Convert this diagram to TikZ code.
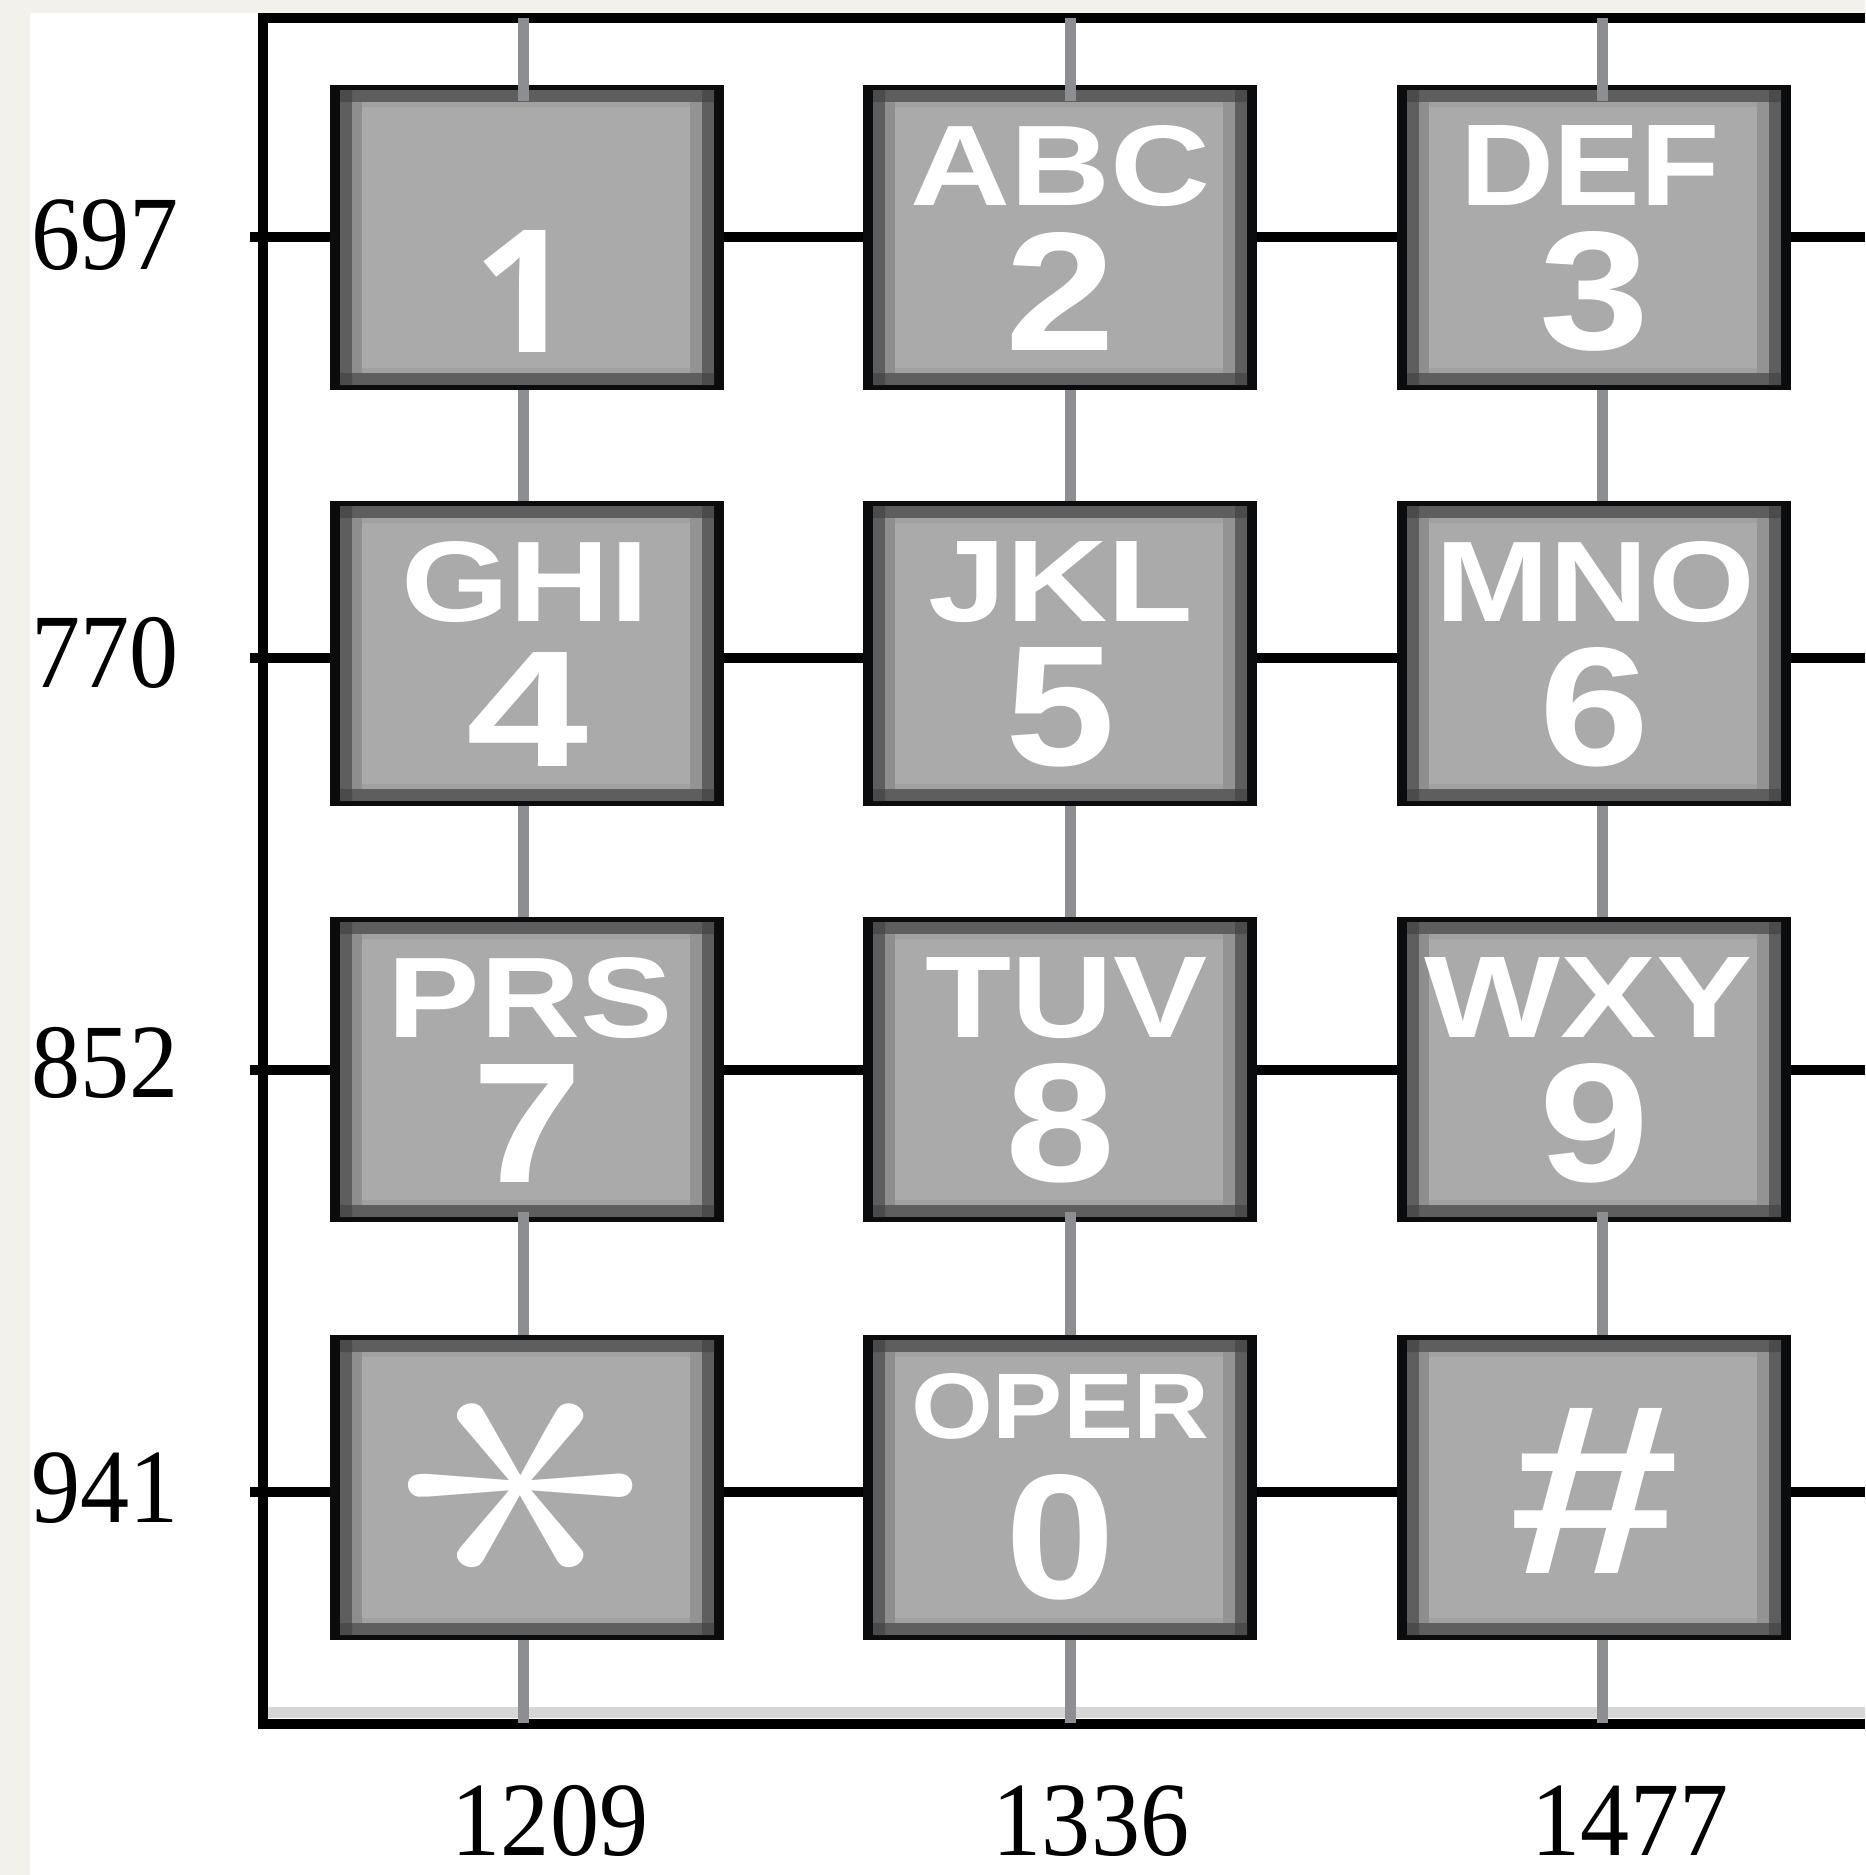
\documentclass[tikz,border=0pt]{standalone}
\usepackage{fontspec}
\setmainfont{Liberation Serif}
\newfontfamily\keyfont{Liberation Sans}
\newfontfamily\onefont{Open Sans}
\usetikzlibrary{calc}
\newlength\kpxunit
\setlength\kpxunit{0.01cm}

\definecolor{paper}{RGB}{243,241,236}
\definecolor{keyblack}{RGB}{10,12,13}
\definecolor{bandone}{RGB}{94,94,94}
\definecolor{bandcorner}{RGB}{75,75,75}
\definecolor{bandtb}{RGB}{161,161,161}
\definecolor{bandl}{RGB}{142,142,142}
\definecolor{bandr}{RGB}{147,147,147}
\definecolor{keyfill}{RGB}{170,170,170}
\definecolor{colgray}{RGB}{141,142,145}
\definecolor{basegray}{RGB}{214,214,214}

\tikzset{
  framewire/.style={draw=black, line width=0.1cm, line join=miter},
  rowwire/.style={draw=black, line width=0.1cm},
  colwire/.style={draw=colgray, line width=0.11cm},
  keybody/.style={fill=keyblack, minimum width=3.94cm, minimum height=3.05cm, inner sep=0pt, outer sep=0pt, anchor=north west},
  keyletters/.style={text=white, font=\keyfont\bfseries, inner sep=0pt},
  keydigit/.style={text=white, font=\keyfont\bfseries, inner sep=0pt},
  freq/.style={font=\fontsize{30}{36}\selectfont, inner sep=0pt, text=black},
}

\newcommand\keyat[3]{%
  \node[keybody] (#1) at (#2,#3) {};
  \begin{scope}[shift={(#2,#3)}]
    \fill[bandone] (10,5) rectangle (384,300);
    \fill[bandcorner] (10,5) rectangle (22,17) (372,5) rectangle (384,17)
                      (10,288) rectangle (22,300) (372,288) rectangle (384,300);
    \fill[bandtb] (22,17) rectangle (372,288);
    \fill[bandl] (22,17) rectangle (32,288);
    \fill[bandr] (360,17) rectangle (372,288);
    \fill[keyfill] (32,22) rectangle (360,283);
  \end{scope}}
\newcommand\kpxbox[3]{\resizebox{#1\kpxunit}{#2\kpxunit}{#3}}

\begin{document}
\begin{tikzpicture}[x=0.01cm, y=-0.01cm]
\fill[paper] (0,0) rectangle (1865,1875);
\useasboundingbox (0,0) rectangle (1865,1875);
\fill[white] (30,13) rectangle (1865,1875);
\fill[basegray] (262,1707) rectangle (1865,1718);

% frame
\coordinate (frTR) at (1865,18);
\coordinate (frTL) at (263,18);
\coordinate (frBL) at (263,1724);
\coordinate (frBR) at (1865,1724);
\draw[framewire] (frTR) -- (frTL) -- (frBL) -- (frBR);

% column wires (gray)
\foreach \n/\x in {c1209/523, c1336/1070, c1477/1602} {
  \coordinate (\n n) at (\x,18);
  \coordinate (\n s) at (\x,1723);
  \draw[colwire] (\n n) -- (\n s);
}
% row wires (black)
\foreach \n/\y in {r697/237, r770/658, r852/1070, r941/1492} {
  \coordinate (\n w) at (250,\y);
  \coordinate (\n e) at (1865,\y);
  \draw[rowwire] (\n w) -- (\n e);
}

% keys
\keyat{k1}{330}{85}   \keyat{k2}{863}{85}   \keyat{k3}{1397}{85}
\keyat{k4}{330}{501}  \keyat{k5}{863}{501}  \keyat{k6}{1397}{501}
\keyat{k7}{330}{917}  \keyat{k8}{863}{917}  \keyat{k9}{1397}{917}
\keyat{kstar}{330}{1335} \keyat{k0}{863}{1335} \keyat{khash}{1397}{1335}

% gray wires seen over the key rims
\draw[colwire] (c1209n |- k1.north) -- ++(0,16);
\draw[colwire] (c1336n |- k2.north) -- ++(0,16);
\draw[colwire] (c1477n |- k3.north) -- ++(0,16);
\draw[colwire] (c1209s |- k7.south) -- ++(0,-10);
\draw[colwire] (c1336s |- k8.south) -- ++(0,-10);
\draw[colwire] (c1477s |- k9.south) -- ++(0,-10);

% key letters
\node[keyletters] (k2l) at ($(k2.center)+(0,-72)$) {\kpxbox{300}{80}{ABC}};
\node[keyletters] (k3l) at ($(k3.center)+(-4,-72)$) {\kpxbox{260}{80}{DEF}};
\node[keyletters] (k4l) at ($(k4.center)+(-2,-72)$) {\kpxbox{247}{80}{GHI}};
\node[keyletters] (k5l) at ($(k5.center)+(1,-72)$) {\kpxbox{265}{80}{JKL}};
\node[keyletters] (k6l) at ($(k6.center)+(1,-72)$) {\kpxbox{320}{80}{MNO}};
\node[keyletters] (k7l) at ($(k7.center)+(3,-72)$) {\kpxbox{285}{80}{PRS}};
\node[keyletters] (k8l) at ($(k8.center)+(6,-72)$) {\kpxbox{282}{80}{TUV}};
\node[keyletters] (k9l) at ($(k9.center)+(-6,-72)$) {\kpxbox{328}{80}{WXY}};
\node[keyletters] (k0l) at ($(k0.center)+(0,-81)$) {\kpxbox{298}{65}{OPER}};

% key digits
\node[keydigit] (k1d) at ($(k1.center)+(-4,54)$) {\kpxbox{100}{122}{\onefont\bfseries 1}};
\node[keydigit] (k2d) at ($(k2.center)+(0,54)$) {\kpxbox{110}{118}{2}};
\node[keydigit] (k3d) at ($(k3.center)+(0,54)$) {\kpxbox{110}{118}{3}};
\node[keydigit] (k4d) at ($(k4.center)+(0,56)$) {\kpxbox{122}{114}{4}};
\node[keydigit] (k5d) at ($(k5.center)+(0,54)$) {\kpxbox{110}{118}{5}};
\node[keydigit] (k6d) at ($(k6.center)+(0,54)$) {\kpxbox{110}{118}{6}};
\node[keydigit] (k7d) at ($(k7.center)+(0,54)$) {\kpxbox{110}{118}{7}};
\node[keydigit] (k8d) at ($(k8.center)+(0,54)$) {\kpxbox{110}{118}{8}};
\node[keydigit] (k9d) at ($(k9.center)+(0,54)$) {\kpxbox{110}{118}{9}};
\node[keydigit] (k0d) at ($(k0.center)+(0,50)$) {\kpxbox{110}{124}{0}};
\node[keydigit, rotate=90] (ksd) at ($(kstar.center)+(2,-2)$) {\resizebox*{222\kpxunit}{242\kpxunit}{$\ast$}};
\node[keydigit] (khd) at ($(khash.center)+(0,3)$) {\kpxbox{170}{165}{\#}};

% frequency labels
\node[freq, anchor=west] (f697) at (31,235) {\scalebox{0.93}[1]{697}};
\node[freq, anchor=west] (f770) at (31,653) {\scalebox{0.93}[1]{770}};
\node[freq, anchor=west] (f852) at (31,1063) {\scalebox{0.93}[1]{852}};
\node[freq, anchor=west] (f941) at (31,1488) {\scalebox{0.93}[1]{941}};
\node[freq] (f1209) at (550,1821) {\scalebox{0.93}[1]{1209}};
\node[freq] (f1336) at (1091,1821) {\scalebox{0.93}[1]{1336}};
\node[freq] (f1477) at (1630,1821) {\scalebox{0.93}[1]{1477}};
\end{tikzpicture}
\end{document}
